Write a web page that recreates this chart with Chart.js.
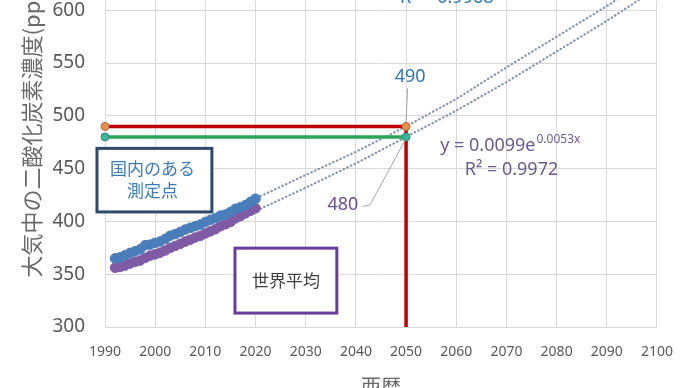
<!DOCTYPE html>
<html>
<head>
<meta charset="utf-8">
<script src="https://cdn.jsdelivr.net/npm/chart.js@4"></script>
<style>
  body { margin: 0; background: #fff; overflow: hidden; }
  canvas { display: block; margin-top: -5px; }
</style>
</head>
<body>
<canvas id="co2chart" width="690" height="393"></canvas>
<script>
// annual means
var years = [1992, 1993, 1994, 1995, 1996, 1997, 1998, 1999, 2000, 2001,
   2002, 2003, 2004, 2005, 2006, 2007, 2008, 2009, 2010, 2011,
   2012, 2013, 2014, 2015, 2016, 2017, 2018, 2019, 2020];
var domestic = [365.0, 366.0, 368.0, 370.2, 371.8, 373.5, 377.5, 378.0, 379.7, 381.0,
   383.5, 386.5, 388.0, 390.0, 392.3, 394.0, 395.5, 397.0, 399.5, 401.5,
   403.0, 405.5, 406.5, 409.0, 412.0, 413.5, 415.5, 418.5, 421.5];
var world = [356.1, 356.8, 358.2, 360.1, 361.8, 362.9, 365.5, 367.6, 368.8, 370.4,
   372.4, 375.0, 376.8, 378.8, 380.9, 382.7, 384.8, 386.3, 388.6, 390.6,
   392.6, 395.4, 397.3, 399.4, 402.9, 405.0, 407.6, 410.1, 412.4];

// dotted trend lines as drawn
var trendYears = [2021, 2030, 2040, 2050, 2060, 2070, 2080, 2090, 2100];
var domesticTrend = [424, 444, 466, 490, 516, 546, 575, 604, 635];
var worldTrend = [412, 432, 455, 480, 505, 532, 561, 590, 621];

// reference lines
var refYears = [1990, 2050];
var target490 = 490;
var target480 = 480;
var yBottom = 300;

var xTicks = [1990, 2000, 2010, 2020, 2030, 2040, 2050, 2060, 2070, 2080, 2090, 2100];
var yTicks = [300, 350, 400, 450, 500, 550, 600];

function pts(xs, ys) {
   return xs.map(function (x, i) { return { x: x, y: ys[i] }; });
}

var numFont = "'Noto Sans', sans-serif";
var jpFont = "'Noto Sans CJK JP', sans-serif";

// texts, boxes and leader lines, placed in data space
var notes = {
   id: "notes",
   afterDatasetsDraw: function (chart) {
      var c = chart.ctx;
      var sx = chart.scales.x, sy = chart.scales.y;
      function X(v) { return sx.getPixelForValue(v); }
      function Y(v) { return sy.getPixelForValue(v); }
      c.save();

      // leader lines
      c.strokeStyle = "#a6a6a6";
      c.lineWidth = 1;
      c.beginPath();
      c.moveTo(X(2050.3), Y(526));
      c.lineTo(X(2050), Y(494));
      c.stroke();
      c.beginPath();
      c.moveTo(X(2041.3), Y(414.3));
      c.lineTo(X(2042.8), Y(415.5));
      c.lineTo(X(2049.8), Y(477));
      c.stroke();

      c.textBaseline = "middle";
      c.font = "18px " + numFont;
      c.textAlign = "center";
      c.fillStyle = "#2f77b3";
      c.fillText("490", X(2050.8), Y(537.2));
      c.fillStyle = "#6c4f94";
      c.fillText("480", X(2037.4), Y(415.3));

      // trend equation
      c.textAlign = "left";
      c.fillStyle = "#6c5a8e";
      var ex = X(2056.8), ey = Y(472);
      c.fillText("y = 0.0099e", ex, ey);
      var w = c.measureText("y = 0.0099e").width;
      c.font = "12px " + numFont;
      c.fillText("0.0053x", ex + w + 1, ey - 6);
      c.font = "18px " + numFont;
      c.fillText("R² = 0.9972", X(2061.7), Y(448.4));
      c.fillStyle = "#2f77b3";
      c.textBaseline = "alphabetic";
      c.fillText("R² = 0.9968", X(2048.8), Y(606.5));

      // boxes
      c.lineWidth = 3;
      c.strokeStyle = "#2f4a6a";
      c.fillStyle = "#ffffff";
      var b1 = [X(1988.4), Y(469.2), X(2011.3), Y(409)];
      c.fillRect(b1[0], b1[1], b1[2] - b1[0], b1[3] - b1[1]);
      c.strokeRect(b1[0], b1[1], b1[2] - b1[0], b1[3] - b1[1]);
      c.strokeStyle = "#6a3d9a";
      var b2 = [X(2015.9), Y(374.7), X(2036.2), Y(313.2)];
      c.fillRect(b2[0], b2[1], b2[2] - b2[0], b2[3] - b2[1]);
      c.strokeRect(b2[0], b2[1], b2[2] - b2[0], b2[3] - b2[1]);

      c.font = "17px " + jpFont;
      c.textAlign = "center";
      c.textBaseline = "middle";
      c.fillStyle = "#3a7db8";
      c.fillText("国内のある", (b1[0] + b1[2]) / 2 - 2, b1[1] + 20);
      c.fillText("測定点", (b1[0] + b1[2]) / 2 - 2, b1[1] + 42);
      c.fillStyle = "#404040";
      c.fillText("世界平均", (b2[0] + b2[2]) / 2, (b2[1] + b2[3]) / 2);

      // axis titles
      c.fillStyle = "#6a6a6a";
      c.font = "20px " + jpFont;
      c.fillText("西暦", (chart.chartArea.left + chart.chartArea.right) / 2, chart.height - 2);
      c.translate(32, Y(347));
      c.rotate(-Math.PI / 2);
      c.textAlign = "left";
      c.font = "22px " + jpFont;
      c.fillText("大気中の二酸化炭素濃度(ppm)", 0, 0);
      c.restore();
   },
};

var dotted = {
   borderColor: "#8797ab",
   borderWidth: 2.2,
   borderDash: [0.5, 3.5],
   borderCapStyle: "round",
   pointRadius: 0,
   showLine: true,
   fill: false,
};

new Chart(document.getElementById("co2chart"), {
   type: "scatter",
   data: {
      datasets: [
         Object.assign({ data: pts(trendYears, domesticTrend), order: 5 }, dotted),
         Object.assign({ data: pts(trendYears, worldTrend), order: 5 }, dotted),
         {
            data: pts(years, domestic),
            backgroundColor: "#4a7ebb",
            borderColor: "#4a7ebb",
            pointRadius: 4.8,
            order: 4,
         },
         {
            data: pts(years, world),
            backgroundColor: "#7f5ba6",
            borderColor: "#7f5ba6",
            pointRadius: 4.8,
            order: 4,
         },
         {
            data: [{ x: refYears[1], y: target490 }, { x: refYears[1], y: yBottom }],
            showLine: true,
            borderColor: "#c00000",
            borderWidth: 3.5,
            pointRadius: 0,
            order: 3,
         },
         {
            data: refYears.map(function (x) { return { x: x, y: target480 }; }),
            showLine: true,
            borderColor: "#2aa55a",
            borderWidth: 3.5,
            pointRadius: 4,
            pointBackgroundColor: "#3db39a",
            pointBorderColor: "#2e9480",
            pointBorderWidth: 1,
            order: 2,
         },
         {
            data: refYears.map(function (x) { return { x: x, y: target490 }; }),
            showLine: true,
            borderColor: "#c00000",
            borderWidth: 3.5,
            pointRadius: 4,
            pointBackgroundColor: "#e8914f",
            pointBorderColor: "#b86a35",
            pointBorderWidth: 1,
            order: 1,
         },
      ],
   },
   options: {
      responsive: false,
      animation: false,
      clip: false,
      layout: { padding: { left: 0, right: 33, top: 0, bottom: 0 } },
      plugins: { legend: { display: false }, tooltip: { enabled: false } },
      scales: {
         x: {
            type: "linear",
            min: 1990,
            max: 2100,
            afterBuildTicks: function (axis) {
               axis.ticks = xTicks.map(function (v) { return { value: v }; });
            },
            afterFit: function (scale) { scale.height = 61; },
            grid: { color: "#d9d9d9", drawTicks: false },
            border: { color: "#d9d9d9" },
            ticks: {
               color: "#595959",
               font: { size: 14, family: numFont },
               padding: 17,
               maxRotation: 0,
               callback: function (v) { return String(v); },
            },
         },
         y: {
            min: 300,
            max: 609,
            afterBuildTicks: function (axis) {
               axis.ticks = yTicks.map(function (v) { return { value: v }; });
            },
            afterFit: function (scale) {
               scale.width = 105;
               scale.paddingTop = 0;
               scale.paddingBottom = 0;
            },
            grid: { color: "#d9d9d9", drawTicks: false },
            border: { color: "#d9d9d9" },
            ticks: {
               color: "#595959",
               font: { size: 19, family: numFont },
               padding: 20,
            },
         },
      },
   },
   plugins: [notes],
});
</script>
</body>
</html>
